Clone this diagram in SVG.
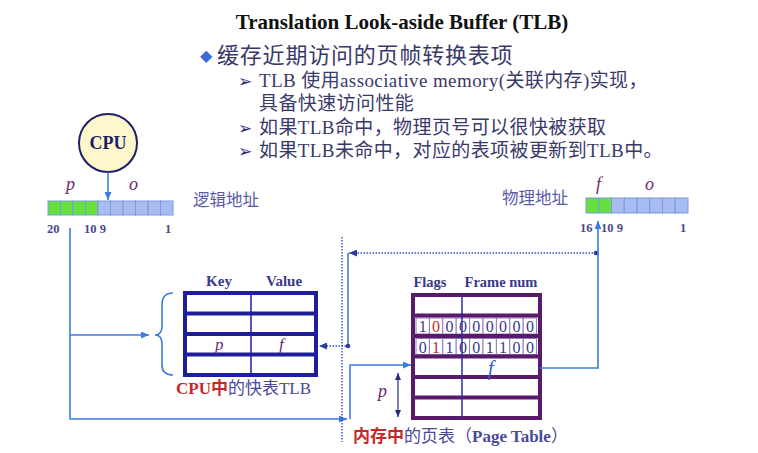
<svg xmlns="http://www.w3.org/2000/svg" width="758" height="453" viewBox="0 0 758 453">
<defs>
<style>
.ser{font-family:"Liberation Serif","Noto Sans CJK SC",serif}
.cjk{font-family:"Liberation Serif","Noto Sans CJK SC",serif}
.sym{font-family:"DejaVu Sans",sans-serif}
.navy{fill:#3a3a88}
.lbl{fill:#5a5aaa}
.red{fill:#c42a2a;font-weight:bold}
.it{font-style:italic;fill:#6a2a72}
.num{font-family:"Liberation Serif",serif;font-weight:bold;font-size:12.5px;fill:#4a4a8a}
.cellg{fill:#66e03c;stroke:#7a9ae0;stroke-width:1}
.cellb{fill:#a9bcf2;stroke:#7a9ae0;stroke-width:1}
.conn{fill:none;stroke:#3f7ae0;stroke-width:1.6}
.dot{fill:none;stroke:#3050c0;stroke-width:1.4;stroke-dasharray:1.5 1.5}
.dig{font-family:"Liberation Serif",serif;font-size:16px;fill:#3a3a88;text-anchor:middle}
.dbox{fill:#fff;stroke:#8a80b0;stroke-width:1}
.sub{font-size:19px;letter-spacing:0.4px;fill:#3a3a6a}
</style>
<marker id="arr" markerWidth="8" markerHeight="7" refX="8" refY="3.5" orient="auto" markerUnits="userSpaceOnUse"><path d="M0,0 L8,3.5 L0,7 z" fill="#3f7ae0"/></marker>
<marker id="arrd" markerWidth="8" markerHeight="7" refX="8" refY="3.5" orient="auto" markerUnits="userSpaceOnUse"><path d="M0,0 L8,3.5 L0,7 z" fill="#2a3aa0"/></marker>
<marker id="arrn" markerWidth="7" markerHeight="6" refX="7" refY="3" orient="auto-start-reverse" markerUnits="userSpaceOnUse"><path d="M0,0 L7,3 L0,6 z" fill="#2a2a7a"/></marker>
</defs>
<rect width="758" height="453" fill="#fff"/>

<g id="title">
<text x="402" y="29" class="ser" font-size="21" font-weight="bold" text-anchor="middle" fill="#111">Translation Look-aside Buffer (TLB)</text>
</g>

<g id="bullets">
<text x="200" y="61" class="sym" font-size="16" fill="#3a6ad8">◆</text>
<text x="217" y="63" class="cjk" font-size="22" letter-spacing="0.8" fill="#3a3a6a">缓存近期访问的页帧转换表项</text>
<text x="238" y="87" class="sym" font-size="17" fill="#2a2a7a">➢</text>
<text x="259" y="87" class="cjk sub">TLB 使用associative memory(关联内存)实现，</text>
<text x="259" y="110" class="cjk sub">具备快速访问性能</text>
<text x="238" y="134" class="sym" font-size="17" fill="#2a2a7a">➢</text>
<text x="259" y="134" class="cjk sub">如果TLB命中，物理页号可以很快被获取</text>
<text x="238" y="157" class="sym" font-size="17" fill="#2a2a7a">➢</text>
<text x="259" y="157" class="cjk sub">如果TLB未命中，对应的表项被更新到TLB中。</text>
</g>

<g id="cpu">
<circle cx="108" cy="143" r="29" fill="#fdf8cc" stroke="#1e1e6a" stroke-width="2"/>
<text x="108" y="149" class="ser" font-size="18" font-weight="bold" text-anchor="middle" fill="#1e1e6a">CPU</text>
</g>

<g id="logical-address">
<text x="66" y="190" class="ser it" font-size="18">p</text>
<text x="129" y="190" class="ser it" font-size="18">o</text>
<rect x="48" y="201" width="12.5" height="14" class="cellg"/>
<rect x="60.5" y="201" width="12.5" height="14" class="cellg"/>
<rect x="73" y="201" width="12.5" height="14" class="cellg"/>
<rect x="85.5" y="201" width="12.5" height="14" class="cellg"/>
<rect x="98" y="201" width="12.5" height="14" class="cellb"/>
<rect x="110.5" y="201" width="12.5" height="14" class="cellb"/>
<rect x="123" y="201" width="12.5" height="14" class="cellb"/>
<rect x="135.5" y="201" width="12.5" height="14" class="cellb"/>
<rect x="148" y="201" width="12.5" height="14" class="cellb"/>
<rect x="160.5" y="201" width="12.5" height="14" class="cellb"/>
<text x="47" y="233" class="num">20</text>
<text x="84" y="233" class="num">10 9</text>
<text x="165" y="233" class="num">1</text>
<text x="193" y="206" class="cjk lbl" font-size="16.5">逻辑地址</text>
</g>

<g id="physical-address">
<text x="596" y="190" class="ser it" font-size="18">f</text>
<text x="645" y="190" class="ser it" font-size="18">o</text>
<rect x="586" y="198" width="12.75" height="15" class="cellg"/>
<rect x="598.75" y="198" width="12.75" height="15" class="cellg"/>
<rect x="611.5" y="198" width="12.75" height="15" class="cellb"/>
<rect x="624.25" y="198" width="12.75" height="15" class="cellb"/>
<rect x="637" y="198" width="12.75" height="15" class="cellb"/>
<rect x="649.75" y="198" width="12.75" height="15" class="cellb"/>
<rect x="662.5" y="198" width="12.75" height="15" class="cellb"/>
<rect x="675.25" y="198" width="12.75" height="15" class="cellb"/>
<text x="580" y="232" class="num">16</text>
<text x="601" y="232" class="num">10 9</text>
<text x="680" y="232" class="num">1</text>
<text x="502" y="204" class="cjk lbl" font-size="16.5">物理地址</text>
</g>

<g id="tlb">
<text x="219" y="286" class="ser navy" font-size="15" font-weight="bold" text-anchor="middle">Key</text>
<text x="284" y="286" class="ser navy" font-size="15" font-weight="bold" text-anchor="middle">Value</text>
<rect x="185" y="293" width="131" height="82" fill="#fff" stroke="#1e1e9a" stroke-width="4"/>
<line x1="185" y1="313.5" x2="316" y2="313.5" stroke="#1e1e9a" stroke-width="4"/>
<line x1="185" y1="334" x2="316" y2="334" stroke="#1e1e9a" stroke-width="4"/>
<line x1="185" y1="354.5" x2="316" y2="354.5" stroke="#1e1e9a" stroke-width="4"/>
<line x1="251" y1="293" x2="251" y2="375" stroke="#1e1e9a" stroke-width="1.5"/>
<text x="215" y="350" class="ser it" font-size="17">p</text>
<text x="279" y="350" class="ser it" font-size="17">f</text>
<text x="176" y="394" class="cjk" font-size="17"><tspan class="red">CPU中</tspan><tspan fill="#4a4a9a">的快表TLB</tspan></text>
</g>

<g id="page-table">
<text x="430" y="287" class="ser navy" font-size="14.5" font-weight="bold" text-anchor="middle">Flags</text>
<text x="501" y="287" class="ser navy" font-size="14.5" font-weight="bold" text-anchor="middle">Frame num</text>
<rect x="413" y="295" width="127" height="123" fill="#fff" stroke="#5a1a6a" stroke-width="4"/>
<g class="dbox">
<rect x="416" y="318" width="13.4" height="16"/><rect x="429.4" y="318" width="13.4" height="16"/><rect x="442.8" y="318" width="13.4" height="16"/><rect x="456.2" y="318" width="13.4" height="16"/><rect x="469.6" y="318" width="13.4" height="16"/><rect x="483" y="318" width="13.4" height="16"/><rect x="496.4" y="318" width="13.4" height="16"/><rect x="509.8" y="318" width="13.4" height="16"/><rect x="523.2" y="318" width="13.4" height="16"/>
<rect x="416" y="338.5" width="13.4" height="16"/><rect x="429.4" y="338.5" width="13.4" height="16"/><rect x="442.8" y="338.5" width="13.4" height="16"/><rect x="456.2" y="338.5" width="13.4" height="16"/><rect x="469.6" y="338.5" width="13.4" height="16"/><rect x="483" y="338.5" width="13.4" height="16"/><rect x="496.4" y="338.5" width="13.4" height="16"/><rect x="509.8" y="338.5" width="13.4" height="16"/><rect x="523.2" y="338.5" width="13.4" height="16"/>
</g>
<line x1="413" y1="315.5" x2="540" y2="315.5" stroke="#5a1a6a" stroke-width="4"/>
<line x1="413" y1="336" x2="540" y2="336" stroke="#5a1a6a" stroke-width="4"/>
<line x1="413" y1="356.5" x2="540" y2="356.5" stroke="#5a1a6a" stroke-width="4"/>
<line x1="413" y1="377" x2="540" y2="377" stroke="#5a1a6a" stroke-width="4"/>
<line x1="413" y1="397.5" x2="540" y2="397.5" stroke="#5a1a6a" stroke-width="4"/>
<line x1="462" y1="295" x2="462" y2="418" stroke="#2a2aaa" stroke-width="1.5"/>
<text class="dig" y="332"><tspan x="422.7">1</tspan><tspan x="436.1" fill="#c42a2a">0</tspan><tspan x="449.5">0</tspan><tspan x="462.9">0</tspan><tspan x="476.3">0</tspan><tspan x="489.7">0</tspan><tspan x="503.1">0</tspan><tspan x="516.5">0</tspan><tspan x="529.9">0</tspan></text>
<text class="dig" y="352.5"><tspan x="422.7">0</tspan><tspan x="436.1" fill="#c42a2a">1</tspan><tspan x="449.5">1</tspan><tspan x="462.9">0</tspan><tspan x="476.3">0</tspan><tspan x="489.7">1</tspan><tspan x="503.1">1</tspan><tspan x="516.5">0</tspan><tspan x="529.9">0</tspan></text>
<text x="488" y="375" class="ser" font-size="20" font-style="italic" fill="#3a5ad0">f</text>
<text x="378" y="397" class="ser it" font-size="18" fill="#4a3a7a">p</text>
<line x1="398" y1="373" x2="398" y2="417" stroke="#2a2a7a" stroke-width="1.2" marker-start="url(#arrn)" marker-end="url(#arrn)"/>
<text x="353" y="442" class="cjk" font-size="17"><tspan class="red">内存中</tspan><tspan fill="#4a4a9a">的页表（</tspan><tspan fill="#4a4a9a" font-weight="bold">Page Table</tspan><tspan fill="#4a4a9a">）</tspan></text>
</g>

<g id="connectors">
<line x1="108" y1="172" x2="108" y2="200" class="conn" marker-end="url(#arr)"/>
<path d="M70,228 V419 H347" class="conn" marker-end="url(#arr)"/>
<line x1="70" y1="335" x2="149" y2="335" class="conn" marker-end="url(#arr)"/>
<path d="M173,293 Q162,293 162,305 V326 Q162,335 155,335 Q162,335 162,344 V365 Q162,375 173,375" class="conn"/>
<path d="M350,419 V365 H411" class="conn" marker-end="url(#arr)"/>
<line x1="342" y1="237" x2="342" y2="442" class="dot"/>
<line x1="596" y1="253" x2="349" y2="253" class="dot" marker-end="url(#arrd)"/>
<circle cx="596" cy="253" r="2.3" fill="#2a3aa0"/>
<line x1="348" y1="253" x2="348" y2="346" class="conn"/>
<circle cx="348" cy="346" r="2.3" fill="#2a3aa0"/>
<line x1="346" y1="346" x2="319" y2="346" class="dot" marker-end="url(#arrd)"/>
<path d="M540,368 H598 V221" class="conn" marker-end="url(#arr)"/>
</g>
</svg>
